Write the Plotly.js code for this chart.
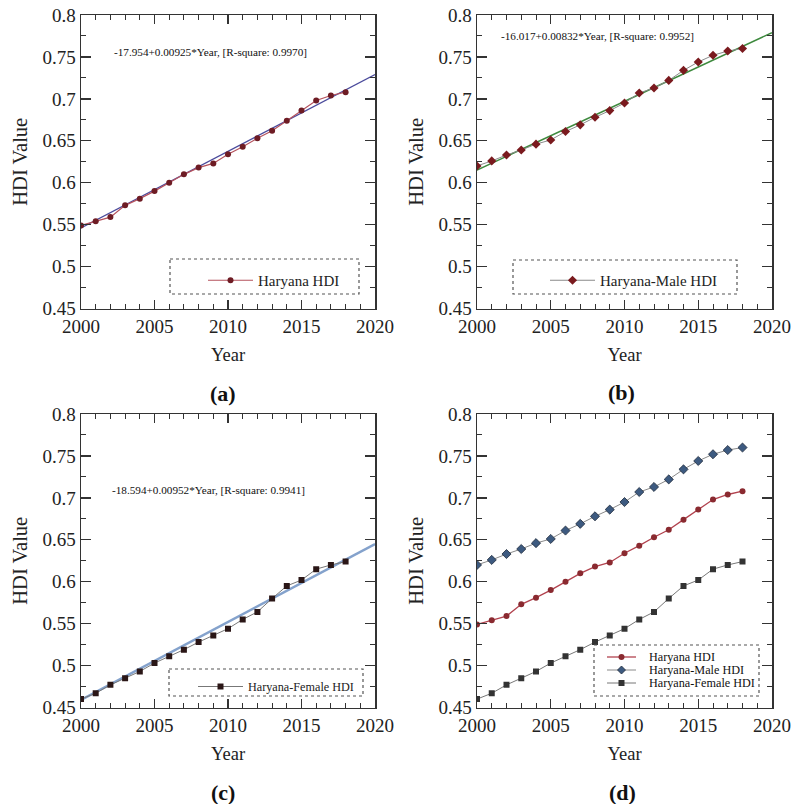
<!DOCTYPE html>
<html><head><meta charset="utf-8">
<script src="https://cdn.plot.ly/plotly-3.0.1.min.js"></script>
<style>html,body{margin:0;padding:0;background:#fff}#chart{width:794px;height:804px}</style>
</head><body><div id="chart"></div>
<script>
const years = [2000,2001,2002,2003,2004,2005,2006,2007,2008,2009,2010,2011,2012,2013,2014,2015,2016,2017,2018];
const haryanaHDI = [0.549,0.554,0.559,0.573,0.581,0.590,0.600,0.610,0.618,0.623,0.634,0.643,0.653,0.662,0.674,0.686,0.698,0.704,0.708];
const maleHDI = [0.620,0.626,0.633,0.639,0.646,0.651,0.661,0.669,0.678,0.686,0.695,0.707,0.713,0.722,0.734,0.744,0.752,0.757,0.760];
const femaleHDI = [0.460,0.467,0.477,0.485,0.493,0.503,0.511,0.519,0.528,0.536,0.544,0.555,0.564,0.580,0.595,0.602,0.615,0.620,0.624];
const fitYears = [2000,2020];
const fitHaryana = [0.546,0.729];
const fitMale = [0.615,0.779];
const fitFemale = [0.459,0.645];
const eqHaryana = "-17.954+0.00925*Year, [R-square: 0.9970]";
const eqMale = "-16.017+0.00832*Year, [R-square: 0.9952]";
const eqFemale = "-18.594+0.00952*Year, [R-square: 0.9941]";
const seriesNames = ["Haryana HDI","Haryana-Male HDI","Haryana-Female HDI"];
const panelLabels = ["(a)","(b)","(c)","(d)"];

const W=794,H=804;
const px = v => v/W, py = v => 1 - v/H;
const serif = "Liberation Serif";

const redLine='#b5525d', redMk='#6e1c24', grayLine='#8a8a8a';
const dRed='#b2434f', dRedMk='#8a2a30', dBlue='#3d5a80', dBlueEdge='#1e2a3a', dSq='#333';

const traces = [
  {x:fitYears,y:fitHaryana,xaxis:'x',yaxis:'y',mode:'lines',line:{color:'#4b4b9c',width:1.3},showlegend:false},
  {x:years,y:haryanaHDI,xaxis:'x',yaxis:'y',mode:'lines+markers',name:seriesNames[0],legend:'legend',
   line:{color:redLine,width:1.2},marker:{symbol:'circle',size:6,color:redMk}},
  {x:fitYears,y:fitMale,xaxis:'x2',yaxis:'y2',mode:'lines',line:{color:'#3e8a3e',width:1.5},showlegend:false},
  {x:years,y:maleHDI,xaxis:'x2',yaxis:'y2',mode:'lines+markers',name:seriesNames[1],legend:'legend2',
   line:{color:grayLine,width:1},marker:{symbol:'diamond',size:7,color:'#7a1a1e'}},
  {x:fitYears,y:fitFemale,xaxis:'x3',yaxis:'y3',mode:'lines',line:{color:'#84a2cc',width:2.5},showlegend:false},
  {x:years,y:femaleHDI,xaxis:'x3',yaxis:'y3',mode:'lines+markers',name:seriesNames[2],legend:'legend3',
   line:{color:'#777',width:1},marker:{symbol:'square',size:6,color:'#2a1616'}},
  {x:years,y:haryanaHDI,xaxis:'x4',yaxis:'y4',mode:'lines+markers',name:seriesNames[0],showlegend:false,
   line:{color:dRed,width:1.3},marker:{symbol:'circle',size:6,color:dRedMk}},
  {x:years,y:maleHDI,xaxis:'x4',yaxis:'y4',mode:'lines+markers',name:seriesNames[1],showlegend:false,
   line:{color:grayLine,width:1},marker:{symbol:'diamond',size:7,color:dBlue,line:{color:dBlueEdge,width:0.8}}},
  {x:years,y:femaleHDI,xaxis:'x4',yaxis:'y4',mode:'lines+markers',name:seriesNames[2],showlegend:false,
   line:{color:'#777',width:1},marker:{symbol:'square',size:6,color:dSq}}
];

function xax(dom, anchor){
  return {domain:dom, anchor:anchor, range:[2000,2020], dtick:5, tick0:2000, ticks:'inside', ticklen:9, tickwidth:1.3,
    tickcolor:'#333', showline:true, linecolor:'#333', linewidth:1.5, mirror:'ticks', showgrid:false, zeroline:false,
    tickfont:{family:serif,size:19,color:'#222'},
    minor:{dtick:1, ticks:'inside', ticklen:5, tickwidth:1, tickcolor:'#333', showgrid:false},
    title:{text:'Year', font:{family:serif,size:18.5,color:'#222'}, standoff:12}};
}
function yax(dom, anchor){
  return {domain:dom, anchor:anchor, range:[0.45,0.8], dtick:0.05, tick0:0.45, ticks:'inside', ticklen:10, tickwidth:1.3,
    tickcolor:'#333', showline:true, linecolor:'#333', linewidth:1.5, mirror:'ticks', showgrid:false, zeroline:false,
    tickfont:{family:serif,size:19,color:'#222'},
    minor:{dtick:0.025, ticks:'inside', ticklen:5, tickwidth:1, tickcolor:'#333', showgrid:false},
    title:{text:'HDI Value', font:{family:serif,size:20.5,color:'#222'}, standoff:9}};
}
const xL=[px(81),px(375)], xR=[px(477),px(772)];
const yT=[py(308.5),py(15)], yB=[py(707.5),py(414)];

function leg(x,y,size,iw){
  return {x:px(x), y:py(y), xanchor:'left', yanchor:'top', bgcolor:'rgba(0,0,0,0)', borderwidth:0,
    font:{family:serif,size:size,color:'#222'}, itemwidth:iw, tracegroupgap:0, itemclick:false};
}
function box(x0,y0,x1,y1){
  return {type:'rect',xref:'paper',yref:'paper',x0:px(x0),x1:px(x1),y0:py(y0),y1:py(y1),
    line:{color:'#555',width:1.2,dash:'dot'},fillcolor:'rgba(0,0,0,0)'};
}
function ann(text,x,y,size,bold,anchor){
  return {text:bold?'<b>'+text+'</b>':text, xref:'paper', yref:'paper', x:px(x), y:py(y), xanchor:anchor||'center', yanchor:'middle',
    showarrow:false, font:{family:serif,size:size,color:'#111'}};
}
function pline(x0,x1,y,color,w){
  return {type:'line',xref:'paper',yref:'paper',x0:px(x0),x1:px(x1),y0:py(y),y1:py(y),line:{color:color,width:w}};
}
// legend (d) drawn as decorations
const dRows=[657,670,683], dL0=607, dL1=636, dM=621.5, dT=647;
const r=3;
const dShapes=[
  pline(dL0,dL1,dRows[0],dRed,1.3), pline(dL0,dL1,dRows[1],grayLine,1), pline(dL0,dL1,dRows[2],'#777',1),
  {type:'circle',xref:'paper',yref:'paper',x0:px(dM-r),x1:px(dM+r),y0:py(dRows[0]-r),y1:py(dRows[0]+r),fillcolor:dRedMk,line:{width:0}},
  {type:'path',xref:'paper',yref:'paper',
   path:`M ${px(dM)} ${py(dRows[1]-4)} L ${px(dM+4)} ${py(dRows[1])} L ${px(dM)} ${py(dRows[1]+4)} L ${px(dM-4)} ${py(dRows[1])} Z`,
   fillcolor:dBlue,line:{color:dBlueEdge,width:0.8}},
  {type:'rect',xref:'paper',yref:'paper',x0:px(dM-r),x1:px(dM+r),y0:py(dRows[2]-r),y1:py(dRows[2]+r),fillcolor:dSq,line:{width:0}}
];

const layout = {
  width:W, height:H, margin:{l:0,r:0,t:0,b:0}, paper_bgcolor:'#fff', plot_bgcolor:'#fff',
  xaxis:xax(xL,'y'), yaxis:yax(yT,'x'),
  xaxis2:xax(xR,'y2'), yaxis2:yax(yT,'x2'),
  xaxis3:xax(xL,'y3'), yaxis3:yax(yB,'x3'),
  xaxis4:xax(xR,'y4'), yaxis4:yax(yB,'x4'),
  legend:leg(203,264,15,45),
  legend2:leg(545,264,15,45),
  legend3:leg(193,672,12.2,45),
  shapes:[box(170,259,359,294), box(513,260,737,294), box(169,669,363,696), box(594,645,759,696)].concat(dShapes),
  annotations:[
    ann(eqHaryana,210,52,11.2),
    ann(eqMale,597,36,11.2),
    ann(eqFemale,208,490,11.2),
    ann(seriesNames[0],dT,dRows[0],12.2,false,'left'),
    ann(seriesNames[1],dT,dRows[1],12.2,false,'left'),
    ann(seriesNames[2],dT,dRows[2],12.2,false,'left'),
    ann(panelLabels[0],223,393,22,true),
    ann(panelLabels[1],621,392,22,true),
    ann(panelLabels[2],223,792,22,true),
    ann(panelLabels[3],622,792,22,true)
  ]
};
Plotly.newPlot('chart', traces, layout, {staticPlot:true});
</script></body></html>
